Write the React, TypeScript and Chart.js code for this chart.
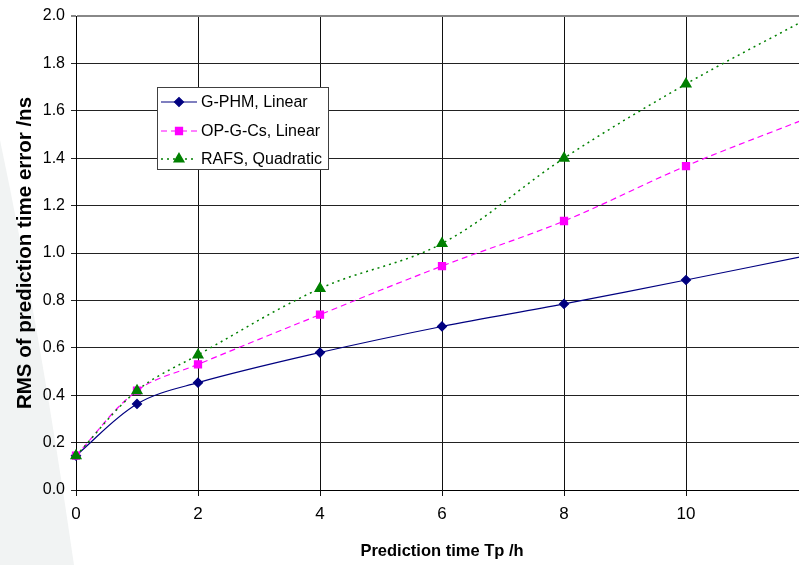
import React, { useEffect, useRef } from 'react';
import { Chart, registerables } from 'chart.js';
import { drawPoint } from 'chart.js/helpers';

Chart.register(...registerables);

const xValues = [0, 1, 2, 4, 6, 8, 10, 12];
const gphmValues = [0.145, 0.363, 0.453, 0.58, 0.69, 0.785, 0.886, 0.99];
const opgcsValues = [0.145, 0.419, 0.53, 0.74, 0.945, 1.135, 1.367, 1.57];
const rafsValues = [0.145, 0.419, 0.57, 0.85, 1.04, 1.4, 1.713, 1.99];
const seriesLabels = ['G-PHM, Linear', 'OP-G-Cs, Linear', 'RAFS, Quadratic'];
const xLabelTicks = [0, 2, 4, 6, 8, 10];
const xTitle = 'Prediction time Tp /h';
const yTitle = 'RMS of prediction time error /ns';

const FONT = "'Liberation Sans', Arial, sans-serif";

const toPoints = (ys: number[]) => xValues.map((x, i) => ({ x, y: ys[i] }));

const legendPlugin = {
  id: 'customLegend',
  afterDraw(chart: any) {
    const ctx = chart.ctx;
    const bx = 157, by = 87, bw = 172, bh = 83;
    ctx.save();
    ctx.fillStyle = '#ffffff';
    ctx.fillRect(bx, by, bw, bh);
    ctx.strokeStyle = '#404040';
    ctx.lineWidth = 1;
    ctx.strokeRect(bx + 0.5, by + 0.5, bw - 1, bh - 1);
    const rows = [102, 131, 159];
    chart.data.datasets.forEach((ds: any, i: number) => {
      const y = rows[i];
      ctx.save();
      ctx.strokeStyle = ds.borderColor;
      ctx.lineWidth = ds.borderWidth;
      ctx.setLineDash(ds.borderDash || []);
      ctx.beginPath();
      ctx.moveTo(161, y);
      ctx.lineTo(197, y);
      ctx.stroke();
      ctx.setLineDash([]);
      ctx.fillStyle = ds.pointBackgroundColor;
      ctx.strokeStyle = ds.pointBorderColor;
      drawPoint(ctx, { pointStyle: ds.pointStyle, radius: ds.pointRadius, borderWidth: 1, rotation: 0 }, 179, y);
      ctx.restore();
      ctx.fillStyle = '#000';
      ctx.font = `16px ${FONT}`;
      ctx.textBaseline = 'middle';
      ctx.textAlign = 'left';
      ctx.fillText(ds.label, 201, y + 1);
    });
    ctx.restore();
  },
};

const backdropPlugin = {
  id: 'backdrop',
  beforeDraw(chart: any) {
    const ctx = chart.ctx;
    ctx.save();
    ctx.fillStyle = '#ffffff';
    ctx.fillRect(0, 0, chart.width, chart.height);
    ctx.fillStyle = '#f1f3f3';
    ctx.beginPath();
    ctx.moveTo(0, 140);
    ctx.quadraticCurveTo(40, 330, 74, 565);
    ctx.lineTo(0, 565);
    ctx.closePath();
    ctx.fill();
    ctx.restore();
  },
};

export default function App() {
  const canvasRef = useRef<HTMLCanvasElement | null>(null);

  useEffect(() => {
    document.body.style.margin = '0';
    const canvas = canvasRef.current;
    if (!canvas) return;
    const chart = new Chart(canvas, {
      type: 'line',
      data: {
        datasets: [
          {
            label: seriesLabels[0],
            data: toPoints(gphmValues),
            borderColor: '#000080',
            borderWidth: 1.2,
            pointStyle: 'rectRot',
            pointRadius: 4.5,
            pointBackgroundColor: '#000080',
            pointBorderColor: '#000080',
            tension: 0.35,
            order: 3,
            clip: 12,
          },
          {
            label: seriesLabels[1],
            data: toPoints(opgcsValues),
            borderColor: '#ff00ff',
            borderWidth: 1.2,
            borderDash: [6, 4],
            pointStyle: 'rect',
            pointRadius: 5,
            pointBackgroundColor: '#ff00ff',
            pointBorderColor: '#ff00ff',
            tension: 0.35,
            order: 2,
            clip: 12,
          },
          {
            label: seriesLabels[2],
            data: toPoints(rafsValues),
            borderColor: '#008000',
            borderWidth: 1.5,
            borderDash: [2, 4],
            pointStyle: 'triangle',
            pointRadius: 5.5,
            pointBackgroundColor: '#008000',
            pointBorderColor: '#008000',
            tension: 0.35,
            order: 1,
            clip: 12,
          },
        ],
      },
      options: {
        animation: false,
        responsive: false,
        maintainAspectRatio: false,
        layout: { padding: { left: 10, top: 16, right: 0, bottom: 0 } },
        plugins: {
          legend: { display: false },
          tooltip: { enabled: false },
        },
        scales: {
          x: {
            type: 'linear',
            min: 0,
            max: 12,
            afterFit: (s: any) => { s.height = 75; },
            afterBuildTicks: (s: any) => {
              s.ticks = [...xLabelTicks, 12].map((v) => ({ value: v }));
            },
            ticks: {
              stepSize: 2,
              includeBounds: false,
              padding: 8,
              color: '#000',
              font: { family: FONT, size: 17 },
              maxRotation: 0,
              callback: (v: any) => (xLabelTicks.includes(Number(v)) ? String(v) : ''),
            },
            grid: { color: '#111', lineWidth: 1, tickLength: 6 },
            border: { color: '#000', width: 1 },
            title: {
              display: true,
              text: xTitle,
              color: '#000',
              font: { family: FONT, size: 16.5, weight: 'bold' },
              padding: { top: 0, bottom: 4 },
            },
          },
          y: {
            type: 'linear',
            min: 0,
            max: 2,
            afterFit: (s: any) => { s.width = 66; },
            ticks: {
              stepSize: 0.2,
              padding: 6,
              color: '#000',
              font: { family: FONT, size: 16 },
              callback: (v: any) => Number(v).toFixed(1),
            },
            grid: {
              color: (c: any) => (c.tick && Math.abs(c.tick.value - 2) < 1e-6 ? '#888' : '#222'),
              lineWidth: (c: any) => (c.tick && Math.abs(c.tick.value - 2) < 1e-6 ? 2 : 1),
              tickLength: 5,
            },
            border: { color: '#000', width: 1 },
            title: {
              display: true,
              text: yTitle,
              color: '#000',
              font: { family: FONT, size: 20.5, weight: 'bold' },
              padding: { top: 3, bottom: 0 },
            },
          },
        },
      },
      plugins: [backdropPlugin, legendPlugin],
    });
    return () => chart.destroy();
  }, []);

  return (
    <div style={{ width: 799, height: 565, overflow: 'hidden', position: 'relative', background: '#fff' }}>
      <canvas ref={canvasRef} width={816} height={565} style={{ display: 'block', width: 816, height: 565 }} />
    </div>
  );
}
